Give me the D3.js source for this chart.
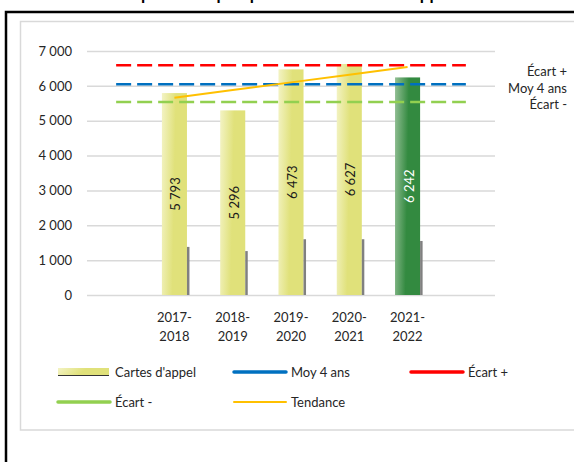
<!DOCTYPE html>
<html>
<head>
<meta charset="utf-8">
<script src="https://cdn.jsdelivr.net/npm/d3@7"></script>
<style>
  body { margin: 0; background: #fff; }
  text { font-family: Lato, "Open Sans", sans-serif; fill: #262626; }
</style>
</head>
<body>
<svg id="chart" width="574" height="462"></svg>
<script>
// slots 0 and 6 are empty, the five seasons sit between
var slots = ["", "2017-2018", "2018-2019", "2019-2020", "2020-2021", "2021-2022", ""];
var cartes = [null, 5793, 5296, 6473, 6627, 6242, null];
var ombre = [null, 1380, 1260, 1600, 1600, 1550, null];   // thin grey bars
var moy4 = [6047, 6047, 6047, 6047, 6047, 6047, 6047];
var ecartPlus = [6590, 6590, 6590, 6590, 6590, 6590, 6590];
var ecartMoins = [5540, 5540, 5540, 5540, 5540, 5540, 5540];
var tendance = [null, 5660, 5880, 6100, 6320, 6540, null];
var yTicks = [0, 1000, 2000, 3000, 4000, 5000, 6000, 7000];

var svg = d3.select("#chart");

// outer black frame + inner grey chart area
svg.append("rect").attr("x", 6).attr("y", 12).attr("width", 620).attr("height", 520)
   .attr("fill", "#fff").attr("stroke", "#000").attr("stroke-width", 2.5);
svg.append("rect").attr("x", 20.5).attr("y", 21.5).attr("width", 620).attr("height", 408.5)
   .attr("fill", "#fff").attr("stroke", "#D9D9D9").attr("stroke-width", 1.5);

// title is clipped at the top of the picture
svg.append("text").attr("x", 287).attr("y", -0.5).attr("text-anchor", "middle")
   .style("font-weight", "bold").style("font-size", "17px").style("fill", "#000")
   .text("Répartition quinquennale des cartes d'appel");

var margin = {left: 87, right: 79, top: 51, bottom: 167},
    width = 574 - margin.left - margin.right,
    height = 462 - margin.top - margin.bottom;

var g = svg.append("g").attr("transform", "translate(" + margin.left + "," + margin.top + ")");

var x = d3.scaleBand().domain(d3.range(slots.length)).range([0, width])
    .paddingInner(0.57).paddingOuter(0.285);
var xc = function(i) { return x(i) + x.bandwidth() / 2; };
var y = d3.scaleLinear().domain([0, 7000]).range([height, 0]);

var fr = d3.formatLocale({decimal: ",", thousands: " ", grouping: [3], currency: ["", " €"]});
var fmt = fr.format(",");

// gradients for the bars
var defs = svg.append("defs");
function grad(id, c0, c1) {
  var lg = defs.append("linearGradient").attr("id", id).attr("x1", "0").attr("x2", "1").attr("y1", "0").attr("y2", "0.15");
  lg.append("stop").attr("offset", "0%").attr("stop-color", c0);
  lg.append("stop").attr("offset", "55%").attr("stop-color", c1);
  lg.append("stop").attr("offset", "100%").attr("stop-color", c1);
}
grad("gJaune", "#F3F3C4", "#E0E17A");
grad("gVert", "#93BF95", "#338A40");

// y axis with grid
var yAxis = g.append("g").call(d3.axisLeft(y).tickValues(yTicks).tickSize(-width).tickPadding(15).tickFormat(fmt));
yAxis.select(".domain").remove();
yAxis.selectAll("line").attr("stroke", "#D9D9D9").attr("stroke-width", 1.5);
yAxis.selectAll("text").style("font-size", "13px").style("font-family", "Lato, sans-serif").attr("fill", "#262626");

// x axis labels on two lines
var xAxis = g.append("g").attr("transform", "translate(0," + height + ")")
  .call(d3.axisBottom(x).tickSize(0).tickPadding(0).tickFormat(function(i) { return slots[i]; }));
xAxis.select(".domain").remove();
xAxis.selectAll("text").each(function(i) {
  var t = d3.select(this), parts = slots[i] ? slots[i].split("-") : [];
  t.text(null).attr("dy", null).attr("y", null)
   .style("font-size", "13px").style("font-family", "Lato, sans-serif").attr("fill", "#262626");
  if (parts.length) {
    t.append("tspan").attr("x", 0).attr("y", 27).text(parts[0] + "-");
    t.append("tspan").attr("x", 0).attr("y", 46).text(parts[1]);
  }
});

var idx = d3.range(slots.length).filter(function(i) { return cartes[i] != null; });

// main bars
g.selectAll(".bar").data(idx).enter().append("rect")
  .attr("x", function(i) { return x(i); })
  .attr("y", function(i) { return y(cartes[i]); })
  .attr("width", x.bandwidth())
  .attr("height", function(i) { return height - y(cartes[i]); })
  .attr("fill", function(i) { return i === 5 ? "url(#gVert)" : "url(#gJaune)"; });

// thin grey bars at right edge
g.selectAll(".ombre").data(idx).enter().append("rect")
  .attr("x", function(i) { return x(i) + x.bandwidth(); })
  .attr("y", function(i) { return y(ombre[i]); })
  .attr("width", 2.5)
  .attr("height", function(i) { return height - y(ombre[i]); })
  .attr("fill", "#808080");

// bar values rotated
g.selectAll(".val").data(idx).enter().append("text")
  .attr("transform", function(i) {
    return "translate(" + (xc(i) + 6) + "," + (y(cartes[i]) + height) / 2 + ") rotate(-90)";
  })
  .attr("text-anchor", "middle")
  .style("font-size", "13px")
  .style("fill", function(i) { return i === 5 ? "#fff" : "#1a1a1a"; })
  .text(function(i) { return fmt(cartes[i]); });

// reference lines across all slots
var ligne = d3.line().x(function(d, i) { return xc(i); }).y(function(d) { return y(d); });
var refs = [
  {data: ecartPlus, color: "#FF0000"},
  {data: moy4, color: "#0070C0"},
  {data: ecartMoins, color: "#92D050"}
];
refs.forEach(function(r) {
  g.append("path").datum(r.data).attr("d", ligne).attr("fill", "none")
    .attr("stroke", r.color).attr("stroke-width", 2.5).attr("stroke-dasharray", "15,6");
});

// trend line
g.append("path").datum(tendance)
  .attr("d", ligne.defined(function(d) { return d != null; }))
  .attr("fill", "none").attr("stroke", "#FFC000").attr("stroke-width", 2);

// labels at right of reference lines
var refLabels = ["Écart +", "Moy 4 ans", "Écart -"];
svg.selectAll(".rl").data(refLabels).enter().append("text")
  .attr("x", 567).attr("y", function(d, i) { return 76 + i * 16.5; })
  .attr("text-anchor", "end").style("font-size", "13px")
  .text(function(d) { return d; });

// legend
var legend = [
  {name: "Cartes d'appel", type: "bar", x: 58, y: 372},
  {name: "Moy 4 ans", color: "#0070C0", w: 3.5, x: 234, y: 372},
  {name: "Écart +", color: "#FF0000", w: 3.5, x: 411, y: 372},
  {name: "Écart -", color: "#92D050", w: 3.5, x: 58, y: 402},
  {name: "Tendance", color: "#FFC000", w: 2, x: 234, y: 402}
];
var lg = svg.append("g");
legend.forEach(function(d) {
  if (d.type === "bar") {
    lg.append("rect").attr("x", d.x).attr("y", d.y - 4).attr("width", 51).attr("height", 7).attr("fill", "url(#gJaune)");
    lg.append("line").attr("x1", d.x).attr("x2", d.x + 51).attr("y1", d.y + 3.5).attr("y2", d.y + 3.5)
      .attr("stroke", "#333").attr("stroke-width", 1);
  } else {
    lg.append("line").attr("x1", d.x).attr("x2", d.x + 52).attr("y1", d.y).attr("y2", d.y)
      .attr("stroke", d.color).attr("stroke-width", d.w).attr("stroke-linecap", "round");
  }
  lg.append("text").attr("x", d.x + 57).attr("y", d.y + 4.5).style("font-size", "13px").text(d.name);
});
</script>
</body>
</html>
